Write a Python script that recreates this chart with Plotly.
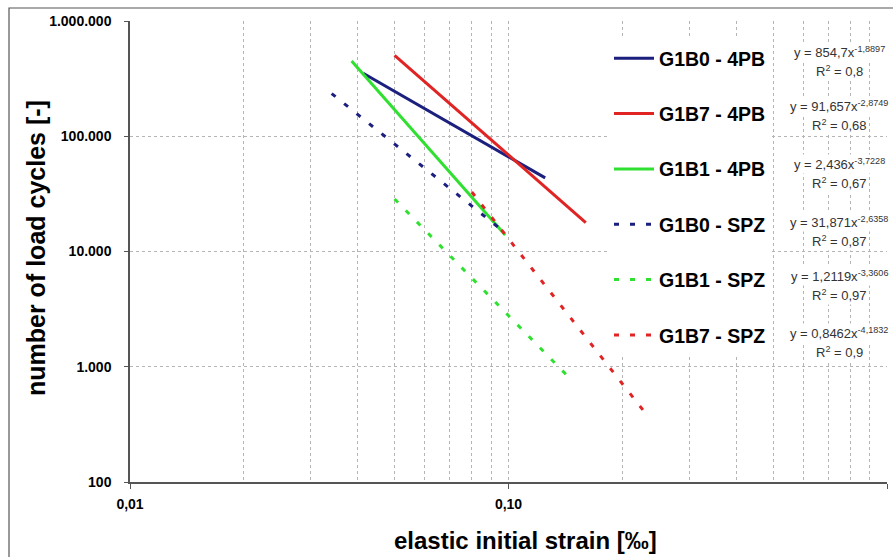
import plotly.graph_objects as go

# Fatigue lines: number of load cycles vs. elastic initial strain (log-log)
series_names = ["G1B0 - 4PB", "G1B7 - 4PB", "G1B1 - 4PB",
                "G1B0 - SPZ", "G1B1 - SPZ", "G1B7 - SPZ"]
strain_start = [0.0413, 0.050, 0.0385, 0.0341, 0.050, 0.080]
strain_end = [0.125, 0.160, 0.098, 0.098, 0.145, 0.230]
cycles_start = [352000, 504000, 449000, 234700, 28550, 32800]
cycles_end = [43500, 17790, 13880, 14530, 798, 396]

# trendline labels
eq_coef = ["854,7", "91,657", "2,436", "31,871", "1,2119", "0,8462"]
eq_exp = ["-1,8897", "-2,8749", "-3,7228", "-2,6358", "-3,3606", "-4,1832"]
r_squared = ["0,8", "0,68", "0,67", "0,87", "0,97", "0,9"]

# axis ticks
x_tick_vals = [0.01, 0.1, 1.0]
x_tick_text = ["0,01", "0,10", "1,0"]
x_minor_vals = [0.02, 0.03, 0.04, 0.05, 0.06, 0.07, 0.08, 0.09,
                0.2, 0.3, 0.4, 0.5, 0.6, 0.7, 0.8, 0.9]
y_tick_vals = [100, 1000, 10000, 100000, 1000000]
y_tick_text = ["100", "1.000", "10.000", "100.000", "1.000.000"]

# styling
colors = ["#1b1f7e", "#e02424", "#30e030", "#1b1f7e", "#30e030", "#e02424"]
dashes = ["solid", "solid", "solid", "5px,11px", "5px,11px", "5px,11px"]

W, H = 893, 557
ML, MR, MT, MB = 130, 6, 21, 75
PW, PH = W - ML - MR, H - MT - MB


def px(xp):
    return (xp - ML) / PW


def py(yp):
    return (H - MB - yp) / PH


FONT = "Liberation Sans, Arial, sans-serif"
GRID = "#b5b5b5"

fig = go.Figure()
for i, name in enumerate(series_names):
    fig.add_trace(go.Scatter(
        x=[strain_start[i], strain_end[i]],
        y=[cycles_start[i], cycles_end[i]],
        mode="lines",
        name=name,
        legendgroup=name,
        line=dict(color=colors[i], width=3, dash=dashes[i]),
    ))

# trendline equation labels next to legend entries (equation line + R² line)
eq_rows = [52, 106, 164, 222, 276, 333]
label_font = dict(family=FONT, size=13, color="#333333")
for i in range(len(series_names)):
    fig.add_annotation(
        xref="paper", yref="paper",
        x=px(839), y=py(eq_rows[i]),
        xanchor="center", yanchor="middle",
        text=f"y = {eq_coef[i]}x<sup>{eq_exp[i]}</sup>",
        showarrow=False, font=label_font, bgcolor="white",
    )
    fig.add_annotation(
        xref="paper", yref="paper",
        x=px(839), y=py(eq_rows[i] + 19),
        xanchor="center", yanchor="middle",
        text=f"R<sup>2</sup> = {r_squared[i]}",
        showarrow=False, font=label_font, bgcolor="white",
    )

# axis titles
fig.add_annotation(
    xref="paper", yref="paper", x=px(525), y=py(540),
    xanchor="center", yanchor="middle", showarrow=False,
    text="elastic initial strain [‰]",
    font=dict(family=FONT, size=24, color="black", weight="bold"),
)
fig.add_annotation(
    xref="paper", yref="paper", x=px(36), y=py(248),
    xanchor="center", yanchor="middle", showarrow=False, textangle=-90,
    text="number of load cycles [-]",
    font=dict(family=FONT, size=25, color="black", weight="bold"),
)

# chart frame
fig.add_shape(
    type="rect", xref="paper", yref="paper",
    x0=px(9), y0=py(600), x1=px(910), y1=py(8),
    line=dict(color="#555555", width=1.2), fillcolor="rgba(0,0,0,0)",
    layer="below",
)

fig.update_xaxes(
    type="log", range=[-2, 0],
    tickvals=x_tick_vals, ticktext=x_tick_text,
    tickfont=dict(family=FONT, size=14, color="black", weight="bold"),
    showline=True, linecolor="#555555", linewidth=1.5,
    ticks="outside", ticklen=5, tickcolor="#555555",
    ticklabelstandoff=3,
    showgrid=True, gridcolor=GRID, griddash="3px,3px", gridwidth=1,
    minor=dict(tickvals=x_minor_vals, showgrid=True, gridcolor=GRID,
               griddash="3px,3px", gridwidth=1, ticks=""),
    zeroline=False,
)
fig.update_yaxes(
    type="log", range=[2, 6],
    tickvals=y_tick_vals, ticktext=y_tick_text,
    tickfont=dict(family=FONT, size=14, color="black", weight="bold"),
    showline=True, linecolor="#555555", linewidth=1.5,
    ticks="outside", ticklen=4, tickcolor="#555555",
    ticklabelstandoff=10,
    showgrid=True, gridcolor=GRID, griddash="3px,3px", gridwidth=1,
    zeroline=False,
)

fig.update_layout(
    width=W, height=H,
    margin=dict(l=ML, r=MR, t=MT, b=MB, autoexpand=False),
    paper_bgcolor="white", plot_bgcolor="white",
    showlegend=True,
    legend=dict(
        x=px(609), y=py(39), xanchor="left", yanchor="top",
        bgcolor="white", borderwidth=0,
        font=dict(family=FONT, size=19.5, color="black", weight="bold"),
        tracegroupgap=27, itemwidth=40,
    ),
)

fig.write_html("out.html")
